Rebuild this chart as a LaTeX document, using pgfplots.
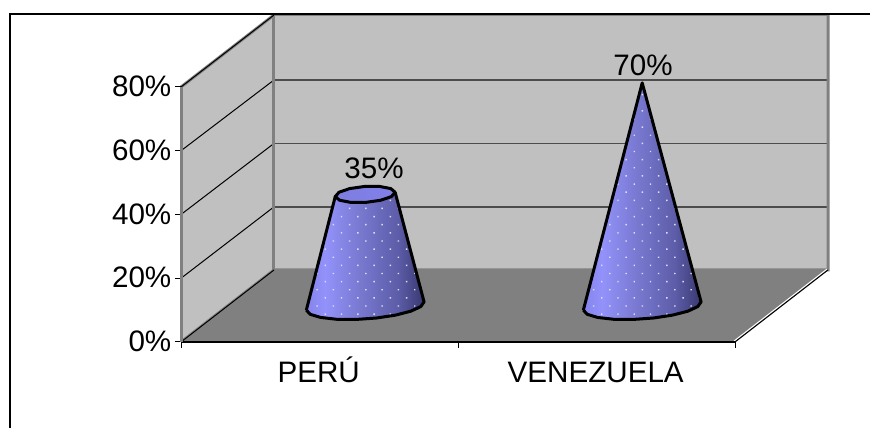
\documentclass[border=0pt]{standalone}
\usepackage{pgfplots}
\pgfplotsset{compat=1.18}
\usepackage{pgfplotstable}
\usepackage{fontspec}
\setmainfont{Liberation Sans}
\usetikzlibrary{patterns.meta}

% one device pixel of the sheet
\def\px{0.75pt}

\definecolor{wallgray}{RGB}{192,192,192}
\definecolor{floorgray}{RGB}{128,128,128}
\definecolor{edgegray}{RGB}{128,128,128}
\definecolor{dotcol}{RGB}{222,222,244}
\definecolor{coneA}{RGB}{132,132,236}
\definecolor{coneB}{RGB}{146,146,250}
\definecolor{coneC}{RGB}{120,120,208}
\definecolor{coneD}{RGB}{92,92,168}
\definecolor{coneE}{RGB}{56,56,112}
\definecolor{topA}{RGB}{125,125,225}
\definecolor{topB}{RGB}{128,128,232}

% horizontal colouring of the cone surface: stops 25bp..75bp span the shape
\pgfdeclarehorizontalshading{conebody}{100bp}{
  color(0bp)=(coneA);
  color(25bp)=(coneA);
  color(33bp)=(coneB);
  color(48bp)=(coneC);
  color(64bp)=(coneD);
  color(75bp)=(coneE);
  color(100bp)=(coneE)}
\pgfdeclarehorizontalshading{conetop}{100bp}{
  color(0bp)=(topA);
  color(25bp)=(topA);
  color(75bp)=(topB);
  color(100bp)=(topB)}

% PERU: percentage 35, a cut cone; x is relative to the category axis
\pgfplotstableread{
x y
-0.2125 -1.29
-0.1986 -2.61
-0.1607 -3.60
-0.1034 -4.17
-0.0337 -4.23
0.0401 -3.78
0.1091 -2.88
0.1649 -1.63
0.2008 -0.18
0.2125 1.29
0.1081 35.66
-0.1081 34.34
-0.2125 -1.29
}\perubody
\pgfplotstableread{
x y
0.1081 35.66
0.0926 36.82
0.0523 37.50
-0.0020 37.50
-0.0557 36.84
-0.0946 35.68
-0.1081 34.34
-0.0926 33.18
-0.0523 32.50
0.0020 32.50
0.0557 33.16
0.0946 34.32
0.1081 35.66
}\perutop
% VENEZUELA: percentage 70, the full cone
\pgfplotstableread{
x y
0.7875 -1.29
0.8014 -2.61
0.8393 -3.60
0.8966 -4.17
0.9663 -4.23
1.0401 -3.78
1.1091 -2.88
1.1649 -1.63
1.2008 -0.18
1.2125 1.29
1.0 70
0.7875 -1.29
}\venbody

% cones stand in the middle of the floor's depth
\pgfplotsset{
  /pgfplots/table/depth/.style={x expr=\thisrow{x}+0.165, y expr=\thisrow{y}+11.3},
  dots/.style={pattern={Dots[radius=1*\px, distance=11.5*\px, angle=45]}, pattern color=dotcol, draw=none}
}

\begin{document}
\begin{tikzpicture}
\useasboundingbox (0,0) rectangle (870*\px,428*\px);
\begin{axis}[
  at={(181*\px,86*\px)}, anchor=south west,
  scale only axis, width=554*\px, height=255*\px,
  xmin=-0.5, xmax=1.5, ymin=0, ymax=80,
  clip=false, axis on top,
  axis lines*=left,
  x axis line style={-, black, line width=2*\px},
  y axis line style={-, edgegray, line width=3*\px},
  tick align=outside,
  tick style={black, line width=1*\px},
  major tick length=6*\px,
  minor tick length=6*\px,
  ytick={0,20,40,60,80},
  yticklabels={0\%,20\%,40\%,60\%,80\%},
  xtick={0,1},
  xticklabels={PERÚ,VENEZUELA},
  minor xtick={-0.5,0.5,1.5},
  x tick style={draw=none},
  minor x tick style={draw=black, line width=1*\px},
  tick label style={font=\fontsize{22.2}{26}\selectfont},
  yticklabel style={xshift=1*\px, yshift=0.6*\px},
  xticklabel style={yshift=-8*\px, xshift=-0.8*\px, text height=16pt, text depth=0pt},
]
% floor
\addplot[fill=floorgray, draw=none] coordinates {(-0.5,0) (1.5,0) (1.8357,22.59) (-0.1643,22.59) (-0.5,0)};
% back wall
\addplot[fill=wallgray, draw=none] coordinates {(-0.1643,22.59) (1.8357,22.59) (1.8357,102.59) (-0.1643,102.59) (-0.1643,22.59)};
% side wall
\addplot[fill=wallgray, draw=none] coordinates {(-0.5,0) (-0.5,80) (-0.1643,102.59) (-0.1643,22.59) (-0.5,0)};
% gridlines on the back wall
\addplot[color=black!70, line width=1.6*\px] coordinates {(-0.1643,42.4) (1.8357,42.4)};
\addplot[color=black!70, line width=1.6*\px] coordinates {(-0.1643,62.3) (1.8357,62.3)};
\addplot[color=black!70, line width=1.6*\px] coordinates {(-0.1643,82.2) (1.8357,82.2)};
% gridlines on the side wall
\addplot[color=black, line width=1*\px] coordinates {(-0.5,20) (-0.1643,42.4)};
\addplot[color=black, line width=1*\px] coordinates {(-0.5,40) (-0.1643,62.3)};
\addplot[color=black, line width=1*\px] coordinates {(-0.5,60) (-0.1643,82.2)};
% wall edges
\addplot[color=edgegray, line width=3*\px] coordinates {(-0.5,0) (-0.1643,22.59) (1.8357,22.59) (1.8357,102.59)};
\addplot[color=edgegray, line width=3*\px] coordinates {(-0.1643,22.59) (-0.1643,102.59) (1.8357,102.59)};
\addplot[color=edgegray, line width=3*\px] coordinates {(-0.5,80) (-0.1643,102.59)};
\addplot[color=black, line width=1*\px] coordinates {(-0.5,0) (-0.1643,22.59)};
\addplot[color=black, line width=1*\px] coordinates {(-0.5,80) (-0.1643,102.59)};
% front right floor edge
\addplot[color=white, line width=1*\px] coordinates {(1.4965,0.3) (1.8322,22.89)};
\addplot[color=black, line width=1*\px] coordinates {(1.5,0) (1.8357,22.59)};
% cones
\addplot[shade, shading=conebody, draw=none] table[depth] {\perubody};
\addplot[dots] table[depth] {\perubody};
\addplot[color=black, line width=3*\px, line join=round] table[depth] {\perubody};
\addplot[shade, shading=conetop, draw=black, line width=3*\px, line join=round] table[depth] {\perutop};

\addplot[shade, shading=conebody, draw=none] table[depth] {\venbody};
\addplot[dots] table[depth] {\venbody};
\addplot[color=black, line width=3*\px, line join=round] table[depth] {\venbody};
% value labels
\node[font=\fontsize{22.2}{26}\selectfont] at (axis cs:0.197,54.6) {35\%};
\node[font=\fontsize{22.2}{26}\selectfont] at (axis cs:1.168,86.9) {70\%};
\end{axis}
% chart frame, open towards the right and the bottom
\draw[black, line width=1.5*\px] (10*\px,0) -- (10*\px,414*\px) -- (870*\px,414*\px);
\end{tikzpicture}
\end{document}
